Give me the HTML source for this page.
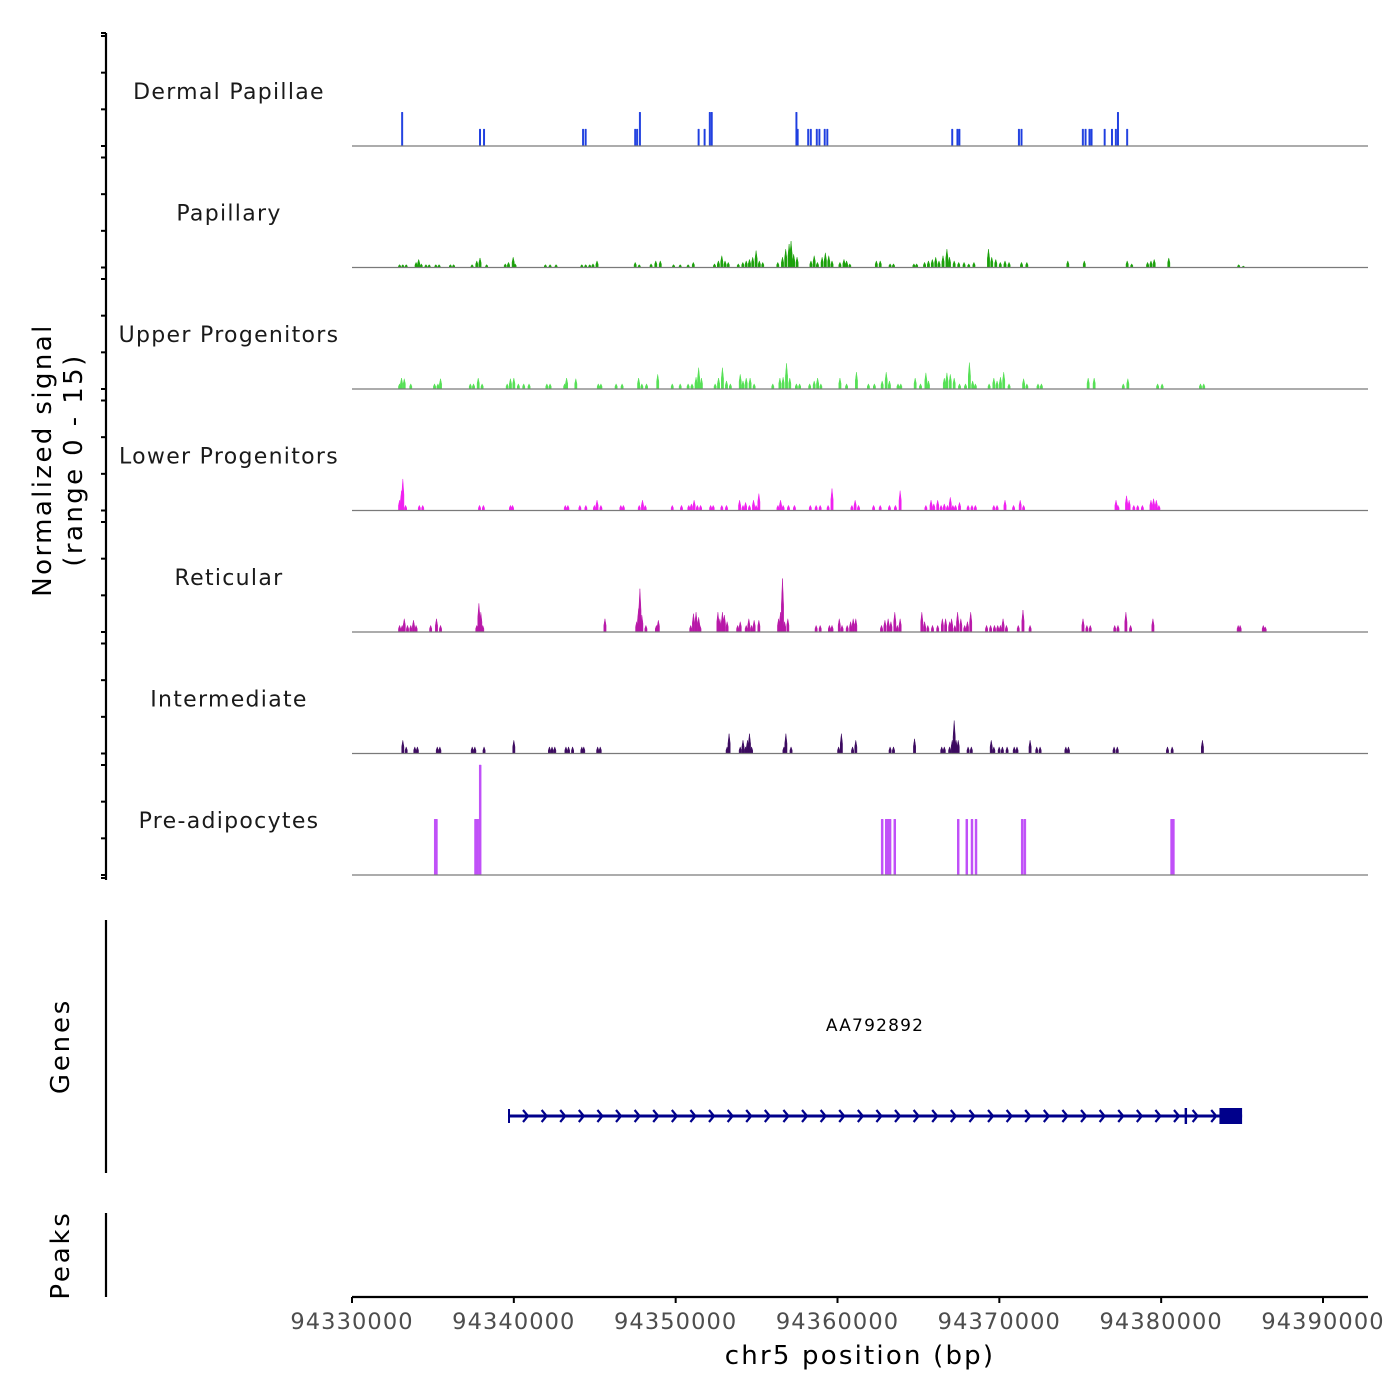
<!DOCTYPE html>
<html><head><meta charset="utf-8"><style>
html,body{margin:0;padding:0;background:#fff}
svg{display:block;font-family:"DejaVu Sans","Liberation Sans",sans-serif}
</style></head><body>
<svg id="chart" width="1400" height="1400" viewBox="0 0 1400 1400"></svg>
<script>
const regionStart = 94330000;
const xTicks = [94330000, 94340000, 94350000, 94360000, 94370000, 94380000, 94390000];
const trackNames = ["Dermal Papillae","Papillary","Upper Progenitors","Lower Progenitors","Reticular","Intermediate","Pre-adipocytes"];
const trackColors = ["#1f3fe0","#1aa00a","#55e055","#f020f0","#b818a8","#3c0a60","#c050f8"];
// positions in kb offset from regionStart, signal on 0-15 scale
const dpKb = [3.10,7.91,8.16,14.28,14.44,17.50,17.62,17.79,21.42,21.79,22.11,22.23,27.46,27.54,28.19,28.35,28.72,28.88,29.21,29.37,37.09,37.41,37.53,41.21,41.37,45.16,45.33,45.57,45.70,46.51,46.96,47.20,47.33,47.90];
const dpVal = [4.6,2.3,2.3,2.3,2.3,2.3,2.3,4.6,2.3,2.3,4.6,4.6,4.6,2.3,2.3,2.3,2.3,2.3,2.3,2.3,2.3,2.3,2.3,2.3,2.3,2.3,2.3,2.3,2.3,2.3,2.3,2.3,4.6,2.3];
const papKb = [2.94,3.14,3.35,3.96,4.12,4.28,4.57,4.77,5.18,5.38,6.08,6.28,7.42,7.71,7.91,8.32,9.47,9.67,9.96,10.08,11.95,12.24,12.61,14.20,14.44,14.69,14.89,15.14,17.50,17.75,18.48,18.77,19.05,19.87,20.28,20.77,21.09,22.40,22.64,22.85,23.05,23.25,23.87,24.15,24.36,24.56,24.76,24.97,25.17,25.38,26.31,26.60,26.80,27.01,27.13,27.29,27.50,28.36,28.56,28.76,29.05,29.25,29.46,29.66,30.15,30.40,30.56,30.76,32.40,32.64,33.25,33.46,34.72,34.89,35.38,35.62,35.86,36.07,36.27,36.52,36.76,36.92,37.21,37.49,37.82,38.11,38.43,39.33,39.53,39.78,40.06,40.35,40.60,41.37,41.70,44.23,45.25,47.90,48.18,49.16,49.37,49.57,50.47,54.79,55.08];
const papVal = [0.4,0.4,0.4,0.7,1.1,0.5,0.4,0.4,0.4,0.4,0.4,0.4,0.4,0.9,1.3,0.4,0.5,0.7,1.4,0.5,0.4,0.4,0.4,0.4,0.4,0.4,0.5,0.9,0.7,0.4,0.5,0.9,0.9,0.4,0.4,0.4,0.7,0.5,0.9,1.6,0.9,0.7,0.5,0.7,0.9,1.1,1.4,2.3,0.9,0.7,0.7,1.4,2.5,3.2,3.6,1.8,1.4,0.9,1.6,0.7,1.4,2.0,1.6,0.9,0.7,1.1,0.9,0.5,0.9,0.9,0.5,0.5,0.5,0.5,0.7,0.9,1.1,1.4,0.9,1.6,2.5,1.4,0.9,0.7,0.7,0.5,0.7,2.5,1.4,1.1,0.7,0.9,0.7,0.7,0.7,0.9,0.9,0.9,0.5,0.7,0.9,1.1,1.3,0.4,0.2];
const upKb = [2.94,3.06,3.23,3.63,5.10,5.31,5.47,7.31,7.51,7.80,8.04,9.59,9.79,10.00,10.28,10.61,10.94,12.04,12.24,13.14,13.26,13.83,15.22,15.38,16.32,16.69,17.71,17.91,18.20,18.89,19.79,20.28,20.77,21.01,21.26,21.42,21.59,22.44,22.65,22.89,23.14,23.38,23.99,24.16,24.36,24.60,24.85,26.00,26.44,26.64,26.85,27.05,27.46,27.66,28.28,28.56,28.77,28.97,30.15,30.56,31.17,31.91,32.28,32.76,33.01,33.21,33.74,33.91,34.80,35.13,35.46,35.62,36.60,36.76,36.97,37.21,37.54,37.91,38.15,38.35,38.52,39.37,39.66,39.86,40.07,40.27,40.60,41.50,41.70,42.39,42.60,45.49,45.86,47.66,47.94,49.78,50.06,52.43,52.63];
const upVal = [0.7,1.5,1.4,0.7,0.7,0.7,1.4,0.7,0.7,1.5,0.7,0.7,1.4,1.5,0.7,0.7,0.7,0.7,0.7,0.7,1.5,1.4,0.7,0.7,0.7,0.7,1.5,0.7,0.7,2.0,0.7,0.7,0.7,0.7,1.6,2.9,1.5,0.7,1.5,2.9,1.1,0.7,2.0,1.1,1.5,1.5,0.7,0.7,1.5,1.6,3.5,1.5,0.7,0.7,0.7,1.1,1.5,0.7,1.5,0.7,2.3,0.7,0.7,1.1,2.3,1.1,0.7,0.7,1.5,0.7,2.2,1.1,1.5,2.2,2.0,1.5,0.7,0.7,3.6,1.1,0.7,0.7,1.5,1.1,1.6,2.3,0.7,1.4,0.7,0.7,0.7,1.5,1.5,0.7,1.4,0.7,0.7,0.7,0.7];
const lowKb = [2.94,3.06,3.14,3.31,4.16,4.37,7.88,8.12,9.79,9.92,13.18,13.34,14.08,14.45,14.98,15.14,15.38,16.61,16.77,17.75,17.95,18.12,19.79,20.36,20.81,20.97,21.14,21.34,21.54,22.16,22.32,22.85,23.14,23.95,24.16,24.32,24.56,24.81,24.97,25.14,26.32,26.48,26.64,26.97,27.34,28.32,28.68,28.93,29.42,29.66,30.89,31.09,31.30,32.23,32.64,33.21,33.58,33.87,35.46,35.78,35.95,36.19,36.40,36.60,36.80,36.97,37.13,37.29,37.54,38.07,38.31,38.52,39.66,39.86,40.35,40.88,41.29,41.50,47.21,47.33,47.86,48.02,48.31,48.55,48.84,49.37,49.53,49.70,49.86];
const lowVal = [1.4,2.7,4.3,0.7,0.7,0.7,0.7,0.7,0.7,0.7,0.7,0.7,0.7,0.7,0.7,1.4,0.7,0.7,0.7,0.7,1.4,0.7,0.7,0.7,0.7,0.9,1.4,0.7,0.7,0.7,0.7,0.7,0.7,1.4,0.7,1.1,0.7,1.4,0.7,2.3,0.7,1.4,0.7,0.7,0.7,0.7,0.7,0.7,0.7,3.0,0.7,1.4,0.7,0.7,0.7,0.7,0.7,2.7,0.7,1.4,0.9,1.4,0.7,0.9,0.7,1.8,0.7,0.7,1.1,0.7,0.7,0.7,0.7,0.7,1.4,0.7,1.4,0.7,1.4,0.7,2.0,1.4,0.7,0.7,0.7,1.4,1.6,1.4,0.7];
const retKb = [2.94,3.10,3.23,3.43,3.63,3.80,3.96,4.86,5.22,5.47,7.71,7.84,7.96,8.08,15.63,17.59,17.71,17.79,17.91,18.16,18.81,18.93,20.93,21.10,21.26,21.42,21.50,22.61,22.73,22.89,23.01,23.18,23.83,23.99,24.36,24.52,24.69,24.85,25.14,26.36,26.48,26.60,26.73,26.93,28.68,28.93,29.50,29.66,30.11,30.28,30.60,30.81,30.97,31.13,32.72,32.93,33.13,33.30,33.54,33.70,33.87,35.21,35.38,35.58,35.87,36.19,36.48,36.68,36.93,37.05,37.25,37.42,37.62,37.86,38.03,38.23,39.21,39.46,39.70,39.90,40.07,40.23,40.44,41.17,41.46,41.90,45.17,45.41,45.62,47.13,47.33,47.82,48.11,49.49,54.76,54.88,56.31,56.43];
const retVal = [0.9,0.9,1.8,0.9,0.9,1.6,0.9,0.9,1.8,0.9,0.9,3.9,2.7,0.9,1.8,1.4,3.2,5.9,2.3,0.9,0.9,1.6,0.9,2.5,2.7,2.0,0.9,2.7,1.8,2.7,2.3,1.4,0.9,1.4,0.9,1.8,0.9,1.6,1.6,1.8,2.7,7.3,1.4,1.8,0.9,0.9,0.9,0.9,1.8,0.9,0.9,1.4,1.8,1.8,0.9,1.6,1.8,1.4,2.7,0.9,1.8,2.7,1.4,0.9,0.9,0.9,1.8,1.8,1.4,1.8,0.9,2.7,1.8,0.9,1.4,2.7,0.9,0.9,0.9,0.9,0.9,1.8,0.9,0.9,3.0,0.9,1.8,0.9,0.9,0.9,0.9,2.7,0.9,1.8,0.9,0.9,0.9,0.7];
const intKb = [3.14,3.35,3.88,4.04,5.27,5.43,7.43,7.59,8.16,10.00,12.20,12.36,12.53,13.22,13.38,13.63,14.20,14.32,15.18,15.34,23.18,23.30,23.99,24.16,24.32,24.44,24.56,24.69,26.69,26.81,27.13,30.07,30.24,30.93,31.13,33.25,33.46,34.76,36.44,36.60,36.93,37.09,37.21,37.33,37.46,38.07,38.27,39.50,39.66,39.99,40.19,40.48,40.92,41.09,41.90,42.31,42.52,44.11,44.27,47.09,47.29,50.39,50.68,52.55];
const intVal = [1.8,0.9,0.9,0.9,0.9,0.9,0.9,0.9,0.9,1.8,0.9,0.9,0.9,0.9,0.9,0.9,0.9,0.9,0.9,0.9,0.9,2.7,0.9,1.8,0.9,1.8,2.7,0.9,0.9,2.7,0.9,0.9,2.7,0.9,1.8,0.9,0.9,2.0,0.9,0.9,0.9,1.8,4.5,1.8,1.8,0.9,0.9,1.8,0.9,0.9,0.9,0.9,0.9,0.9,1.8,0.9,0.9,0.9,0.9,0.9,0.9,0.9,0.9,1.8];
const preKb = [5.14,5.22,7.63,7.75,7.88,7.92,32.76,33.01,33.13,33.25,33.54,37.46,37.99,38.31,38.56,41.41,41.58,50.64,50.76];
const preVal = [7.6,7.6,7.6,7.6,7.6,15,7.6,7.6,7.6,7.6,7.6,7.6,7.6,7.6,7.6,7.6,7.6,7.6,7.6];
const geneName = "AA792892";
const geneStart = 94339640, geneEnd = 94385000;
const exonStarts = [94339640, 94381450, 94383600];
const exonEnds   = [94339700, 94381600, 94385000];

const trackKb = [dpKb,papKb,upKb,lowKb,retKb,intKb,preKb];
const trackVal = [dpVal,papVal,upVal,lowVal,retVal,intVal,preVal];

const NS = "http://www.w3.org/2000/svg";
const svg = document.getElementById("chart");
const X0 = 352, PXPERBP = 971/60000, XEND = 1368;
function xScale(bp){ return X0 + (bp - regionStart) * PXPERBP; }
const BASE0 = 146, TRACKH = 121.5, PXPERUNIT = 110/15;
function yScale(i, v){ return BASE0 + i*TRACKH - v*PXPERUNIT; }
function mk(tag, attrs, parent){
  const e = document.createElementNS(NS, tag);
  for (const k in attrs) e.setAttribute(k, attrs[k]);
  (parent || svg).appendChild(e);
  return e;
}

// left signal axis
const ax = mk("g", {});


mk("line", {x1:106, y1:33, x2:106, y2:880, stroke:"#000", "stroke-width":2.2}, ax);
for (let i = 0; i < 7; i++) {
  for (let k = 0; k <= 3; k++) {
    const y = yScale(i, k*5);
    if (y < 30) continue;
    mk("line", {x1:101, y1:y, x2:106, y2:y, stroke:"#000", "stroke-width":2}, ax);
  }
}
mk("line", {x1:101, y1:33, x2:106, y2:33, stroke:"#000", "stroke-width":2}, ax);
mk("line", {x1:101, y1:878, x2:106, y2:878, stroke:"#000", "stroke-width":2}, ax);
const yt = mk("text", {transform:"translate(57,460) rotate(-90)", "text-anchor":"middle", "font-size":26, "letter-spacing":2.4, fill:"#000"});


const t1 = mk("tspan", {x:0, y:-6}, yt); t1.textContent = "Normalized signal";
const t2 = mk("tspan", {x:0, y:25}, yt); t2.textContent = "(range 0 - 15)";

// tracks
for (let i = 0; i < 7; i++) {
  const g = mk("g", {});
  
  
  const lab = mk("text", {x:229, y:BASE0 + i*TRACKH - 47, "text-anchor":"middle", "font-size":22, "letter-spacing":1.3, fill:"#1a1a1a"}, g);
  
  
  lab.textContent = trackNames[i];
  const base = yScale(i, 0);
  const kb = trackKb[i], vals = trackVal[i];
  const w = i === 0 ? 45 : (i === 6 ? 60 : 70);
  for (let j = 0; j < kb.length; j++) {
    const c = regionStart + kb[j]*1000;
    const xl = xScale(c - w), xr = xScale(c + w), xc = xScale(c);
    const yTop = yScale(i, vals[j]);
    let pts;
    if (i === 0 || i === 6) {
      pts = xl+","+base+" "+xl+","+yTop+" "+xr+","+yTop+" "+xr+","+base;
    } else {
      pts = xl+","+base+" "+xl+","+(base-(base-yTop)*0.5)+" "+xc+","+yTop+" "+xr+","+(base-(base-yTop)*0.5)+" "+xr+","+base;
    }
    const p = mk("polygon", {points:pts, fill:trackColors[i], stroke:trackColors[i], "stroke-width":0.5}, g);
    
    
  }
  const bl = mk("line", {x1:X0, y1:base, x2:XEND, y2:base, stroke:"#7a7a7a", "stroke-width":1.2}, g);
  
  
}

// gene track
const gg = mk("g", {});


mk("line", {x1:106, y1:920, x2:106, y2:1173, stroke:"#000", "stroke-width":2.2}, gg);
const gt = mk("text", {transform:"translate(69,1046) rotate(-90)", "text-anchor":"middle", "font-size":26, "letter-spacing":2.8, fill:"#000"}, gg);


gt.textContent = "Genes";
const gl = mk("text", {x:(xScale(geneStart)+xScale(geneEnd))/2, y:1031, "text-anchor":"middle", "font-size":17, "letter-spacing":1.2, fill:"#000"}, gg);


gl.textContent = geneName;
const gline = mk("line", {x1:xScale(geneStart), y1:1116, x2:xScale(geneEnd), y2:1116, stroke:"#00008b", "stroke-width":3}, gg);


for (let x = xScale(geneStart)+18; x < xScale(geneEnd)-14; x += 18.6) {
  if (Math.abs(x - xScale(exonStarts[1])) < 4) continue;
  mk("polyline", {points:(x-3)+",1110 "+(x+2)+",1116 "+(x-3)+",1122", fill:"none", stroke:"#00008b", "stroke-width":2.2}, gg);
}
const exH = [14, 16, 16];
for (let e = 0; e < exonStarts.length; e++) {
  const x1 = xScale(exonStarts[e]), x2 = Math.max(xScale(exonEnds[e]), x1+2);
  const r = mk("rect", {x:x1, y:1116-exH[e]/2, width:x2-x1, height:exH[e], fill:"#00008b"}, gg);
  
  
}

// peaks track
const pg = mk("g", {});


mk("line", {x1:106, y1:1213, x2:106, y2:1297, stroke:"#000", "stroke-width":2.2}, pg);
const pt = mk("text", {transform:"translate(69,1255) rotate(-90)", "text-anchor":"middle", "font-size":26, "letter-spacing":2.8, fill:"#000"}, pg);


pt.textContent = "Peaks";

// x axis
const xg = mk("g", {});


mk("line", {x1:X0, y1:1297, x2:XEND, y2:1297, stroke:"#000", "stroke-width":2.2}, xg);
for (const t of xTicks) {
  const x = xScale(t);
  mk("line", {x1:x, y1:1297, x2:x, y2:1303, stroke:"#000", "stroke-width":2}, xg);
  const tl = mk("text", {x:x, y:1329, "text-anchor":"middle", "font-size":22.5, "letter-spacing":1.1, fill:"#4d4d4d"}, xg);
  
  
  tl.textContent = t;
}
const xt = mk("text", {x:860, y:1364, "text-anchor":"middle", "font-size":26, "letter-spacing":2.2, fill:"#000"}, xg);


xt.textContent = "chr5 position (bp)";
</script>
</body></html>
